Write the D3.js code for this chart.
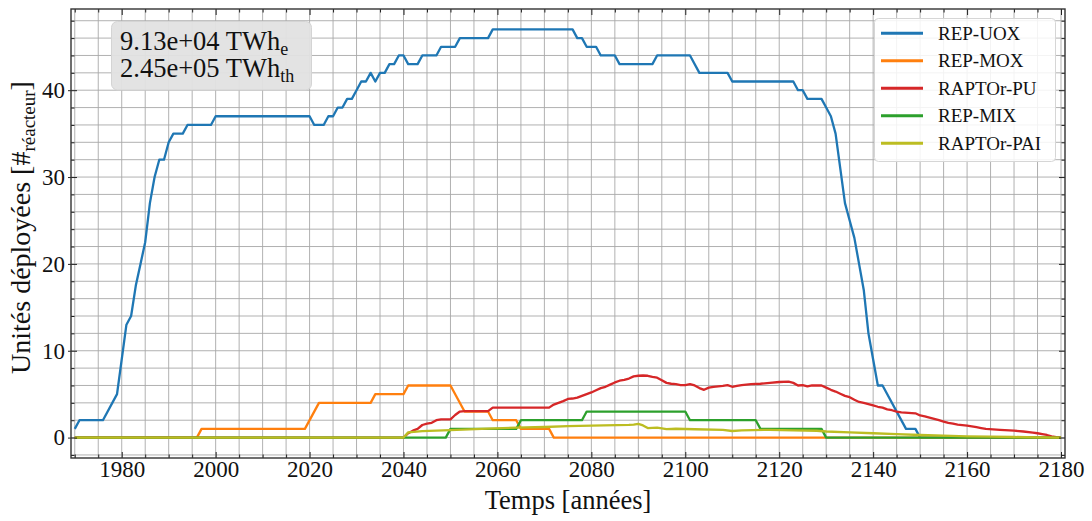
<!DOCTYPE html>
<html><head><meta charset="utf-8">
<script src="https://cdn.jsdelivr.net/npm/d3@7"></script>
<style>
html,body{margin:0;padding:0;background:#fff;}
svg{display:block;}
text{font-family:"Liberation Serif","Times New Roman",serif;fill:#111;}
</style></head>
<body>
<svg id="chart" width="1092" height="521"></svg>
<script>
// ---- data (breakpoints: [year, units]) ----
const seriesNames = ["REP-UOX", "REP-MOX", "RAPTOr-PU", "REP-MIX", "RAPTOr-PAI"];
const seriesColors = ["#1f77b4", "#ff7f0e", "#d62728", "#2ca02c", "#bcbd22"];

const repUOX = [[1970,1],[1971,2],[1976,2],[1979,5],[1981,13],[1982,14],[1983,17.5],[1984,20],[1985,22.5],[1986,27],[1987,30],[1988,32],[1989,32],[1990,34],[1991,35],[1993,35],[1994,36],[1999,36],[2000,37],[2020,37],[2021,36],[2023,36],[2024,37],[2025,37],[2026,38],[2027,38],[2028,39],[2029,39],[2030,40],[2031,41],[2032,41],[2033,42],[2034,41],[2035,42],[2036,42],[2037,43],[2038,43],[2039,44],[2040,44],[2041,43],[2043,43],[2044,44],[2047,44],[2048,45],[2051,45],[2052,46],[2058,46],[2059,47],[2076,47],[2077,46],[2078,46],[2079,45],[2081,45],[2082,44],[2085,44],[2086,43],[2093,43],[2094,44],[2101,44],[2103,42],[2109,42],[2110,41],[2123,41],[2124,40],[2125,40],[2126,39],[2129,39],[2130,38],[2131,37],[2132,35],[2133,31],[2134,27],[2135,25],[2136,23],[2137,20],[2138,17],[2139,12],[2140,9],[2141,6],[2142,6],[2147,1],[2149,1],[2150,0],[2180,0]];

const repMOX = [[1970,0],[1996,0],[1997,1],[2019,1],[2022,4],[2033,4],[2034,5],[2040,5],[2041,6],[2050,6],[2053,3],[2058,3],[2059,2],[2064,2],[2065,1],[2071,1],[2072,0],[2180,0]];

const raptorPU = [[1970,0],[2040,0],[2041,0.5],[2042,0.8],[2043,1.0],[2044,1.45],[2045,1.6],[2046,1.7],[2047,2.0],[2048,2.1],[2050,2.1],[2051,2.6],[2052,3.0],[2053,3.05],[2058,3.05],[2059,3.45],[2071,3.45],[2072,3.8],[2073,4.0],[2074,4.2],[2075,4.45],[2076,4.5],[2077,4.6],[2078,4.8],[2079,5.0],[2080,5.2],[2081,5.45],[2082,5.7],[2083,5.85],[2084,6.1],[2085,6.35],[2086,6.55],[2087,6.65],[2088,6.8],[2089,7.05],[2090,7.12],[2091,7.15],[2092,7.12],[2093,7.0],[2094,6.9],[2095,6.6],[2096,6.3],[2097,6.2],[2098,6.15],[2099,6.05],[2100,6.04],[2101,6.15],[2102,6.0],[2103,5.7],[2104,5.5],[2105,5.75],[2106,5.85],[2107,5.9],[2108,5.95],[2109,6.04],[2110,5.85],[2111,5.95],[2112,6.04],[2113,6.1],[2114,6.15],[2116,6.2],[2118,6.3],[2120,6.4],[2122,6.45],[2123,6.3],[2124,6.0],[2125,6.05],[2126,5.9],[2127,6.0],[2129,6.0],[2130,5.75],[2131,5.5],[2132,5.3],[2133,5.05],[2134,4.8],[2135,4.65],[2136,4.35],[2137,4.1],[2138,4.0],[2139,3.85],[2140,3.7],[2141,3.55],[2142,3.45],[2143,3.25],[2144,3.15],[2145,3.0],[2146,2.9],[2149,2.8],[2150,2.55],[2151,2.45],[2152,2.3],[2153,2.15],[2154,2.0],[2155,1.85],[2156,1.7],[2157,1.6],[2158,1.5],[2160,1.38],[2161,1.3],[2162,1.2],[2163,1.1],[2164,1.0],[2167,0.9],[2170,0.8],[2172,0.7],[2174,0.58],[2175,0.5],[2176,0.4],[2177,0.3],[2178,0.15],[2179,0.05],[2180,0]];

const repMIX = [[1970,0],[2049,0],[2050,1],[2064,1],[2065,2],[2078,2],[2079,3],[2100,3],[2101,2],[2115,2],[2116,1],[2129,1],[2130,0],[2180,0]];

const raptorPAI = [[1970,0],[2040,0],[2041,0.6],[2044,0.74],[2050,0.86],[2058,1.03],[2064,1.15],[2070,1.22],[2075,1.31],[2080,1.38],[2088,1.46],[2089,1.5],[2090,1.58],[2091,1.4],[2092,1.1],[2094,1.15],[2096,0.98],[2098,1.02],[2102,0.96],[2108,0.9],[2110,0.76],[2112,0.82],[2117,0.9],[2118,0.9],[2123,0.82],[2128,0.79],[2130,0.7],[2135,0.6],[2140,0.5],[2145,0.4],[2150,0.3],[2155,0.22],[2160,0.15],[2165,0.1],[2170,0.07],[2175,0.03],[2180,0]];

const xMajorTicks = [1980, 2000, 2020, 2040, 2060, 2080, 2100, 2120, 2140, 2160, 2180];
const yMajorTicks = [0, 10, 20, 30, 40];
const annotationLines = [["9.13e+04 TWh", "e"], ["2.45e+05 TWh", "th"]];
const xTitle = "Temps [années]";
const yTitleMain = "Unités déployées [#";
const yTitleSub = "réacteur";

// ---- layout ----
const L = 71, R = 1065, T = 9, B = 458;
const svg = d3.select("#chart");

const x = d3.scaleLinear().domain([1969.2, 2180.85]).range([L, R]);
const y = d3.scaleLinear().domain([-2.35, 49.35]).range([B, T]);

const xMinor = d3.range(1970, 2181, 5);
const yMinor = d3.range(-2, 49.4, 2);

// grid
const grid = svg.append("g");
grid.selectAll("line.gx").data(xMinor).join("line")
  .attr("x1", d => x(d)).attr("x2", d => x(d)).attr("y1", T).attr("y2", B)
  .attr("stroke", "#a8a8a8").attr("stroke-width", 0.9);
grid.selectAll("line.gy").data(yMinor).join("line")
  .attr("y1", d => y(d)).attr("y2", d => y(d)).attr("x1", L).attr("x2", R)
  .attr("stroke", "#a8a8a8").attr("stroke-width", 0.9);

// clip
svg.append("clipPath").attr("id", "clip").append("rect")
  .attr("x", L).attr("y", T).attr("width", R - L).attr("height", B - T);

const line = d3.line().x(d => x(d[0])).y(d => y(d[1]));
const allSeries = [repUOX, repMOX, raptorPU, repMIX, raptorPAI];
const lines = svg.append("g").attr("clip-path", "url(#clip)");
allSeries.forEach((s, i) => {
  lines.append("path").datum(s).attr("d", line)
    .attr("fill", "none").attr("stroke", seriesColors[i])
    .attr("stroke-width", 2.3).attr("stroke-linejoin", "round").attr("stroke-linecap", "butt");
});

// axes with inward ticks on all sides
function tickAxis(axisGen, transform) {
  const g = svg.append("g").attr("transform", transform).call(axisGen);
  g.select(".domain").remove();
  g.selectAll("line").attr("stroke", "#222").attr("stroke-width", 1);
  return g;
}
const fmt = d3.format("d");
const xMinorOnly = xMinor.filter(v => !xMajorTicks.includes(v));
const yMinorOnly = yMinor.filter(v => !yMajorTicks.includes(v));
// bottom
const gb = tickAxis(d3.axisBottom(x).tickValues(xMajorTicks).tickFormat(fmt).tickSizeInner(-6).tickSizeOuter(0).tickPadding(3), `translate(0,${B})`);
gb.selectAll("text").attr("font-size", 23).attr("font-family", "Liberation Serif").attr("fill", "#111");
tickAxis(d3.axisBottom(x).tickValues(xMinorOnly).tickFormat("").tickSizeInner(-3.5).tickSizeOuter(0), `translate(0,${B})`);
// top
tickAxis(d3.axisTop(x).tickValues(xMajorTicks).tickFormat("").tickSizeInner(-6).tickSizeOuter(0), `translate(0,${T})`);
tickAxis(d3.axisTop(x).tickValues(xMinorOnly).tickFormat("").tickSizeInner(-3.5).tickSizeOuter(0), `translate(0,${T})`);
// left
const gl = tickAxis(d3.axisLeft(y).tickValues(yMajorTicks).tickFormat(fmt).tickSizeInner(-6).tickSizeOuter(0).tickPadding(6), `translate(${L},0)`);
gl.selectAll("text").attr("font-size", 23).attr("font-family", "Liberation Serif").attr("fill", "#111");
gl.selectAll("line").attr("x1", -3);
tickAxis(d3.axisLeft(y).tickValues(yMinorOnly).tickFormat("").tickSizeInner(-3.5).tickSizeOuter(0), `translate(${L},0)`);
// right
tickAxis(d3.axisRight(y).tickValues(yMajorTicks).tickFormat("").tickSizeInner(-6).tickSizeOuter(0), `translate(${R},0)`);
tickAxis(d3.axisRight(y).tickValues(yMinorOnly).tickFormat("").tickSizeInner(-3.5).tickSizeOuter(0), `translate(${R},0)`);

// frame
svg.append("rect").attr("x", L).attr("y", T).attr("width", R - L).attr("height", B - T)
  .attr("fill", "none").attr("stroke", "#333").attr("stroke-width", 1.4);

// axis titles
svg.append("text").attr("x", (L + R) / 2).attr("y", 509).attr("text-anchor", "middle")
  .attr("font-size", 26.5).text(xTitle);
const yt = svg.append("text").attr("transform", `translate(30,${(T + B) / 2 - 6}) rotate(-90)`)
  .attr("text-anchor", "middle").attr("font-size", 28);
yt.append("tspan").text(yTitleMain);
yt.append("tspan").attr("font-size", 19).attr("dy", 5).text(yTitleSub);
yt.append("tspan").attr("dy", -5).text("]");

// annotation box
const ann = svg.append("g");
ann.append("rect").attr("x", 111.5).attr("y", 21.5).attr("width", 200).attr("height", 68.5)
  .attr("rx", 6).attr("fill", "#e2e2e2").attr("fill-opacity", 0.95).attr("stroke", "#d4d4d4").attr("stroke-width", 1);
annotationLines.forEach((ln, i) => {
  const t = ann.append("text").attr("x", 120).attr("y", 50 + i * 27.3).attr("font-size", 26.5);
  t.append("tspan").text(ln[0]);
  t.append("tspan").attr("font-size", 18).attr("dy", 5).text(ln[1]);
});

// legend
const lg = svg.append("g");
lg.append("rect").attr("x", 874.5).attr("y", 18.5).attr("width", 181).attr("height", 143)
  .attr("rx", 4).attr("fill", "#fff").attr("fill-opacity", 0.85).attr("stroke", "#d6d6d6").attr("stroke-width", 1);
seriesNames.forEach((n, i) => {
  const cy = 33.3 + i * 27.5;
  lg.append("line").attr("x1", 881).attr("x2", 923).attr("y1", cy).attr("y2", cy)
    .attr("stroke", seriesColors[i]).attr("stroke-width", 3);
  lg.append("text").attr("x", 938).attr("y", cy + 6.5).attr("font-size", 19).text(n);
});
</script>
</body></html>
